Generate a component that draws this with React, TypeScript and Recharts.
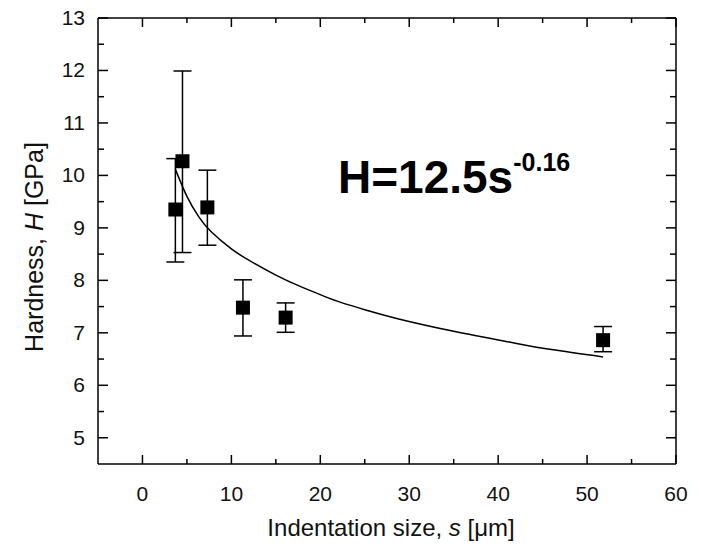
import { ComposedChart, Scatter, Line, XAxis, YAxis, ErrorBar } from "recharts";

// measured points (indentation size in um, hardness in GPa)
const sizes = [3.7, 4.5, 7.3, 11.3, 16.1, 51.8];
const hardness = [9.35, 10.27, 9.39, 7.48, 7.29, 6.86];
const hardnessLow = [8.35, 8.53, 8.67, 6.94, 7.01, 6.64];
const hardnessHigh = [10.32, 11.99, 10.1, 8.01, 7.57, 7.12];

// fitted curve
const fitSizes = [3.7, 5, 6.3, 7.7, 10, 12, 15, 17.8, 20.4, 22.3, 25, 28.7, 35, 41.4, 46, 51.8];
const fitHardness = [10.12, 9.6, 9.22, 8.93, 8.6, 8.38, 8.1, 7.88, 7.7, 7.58, 7.44, 7.27, 7.03, 6.82, 6.68, 6.54];

const xTicks = [0, 5, 10, 15, 20, 25, 30, 35, 40, 45, 50, 55, 60];
const yTicks = [5, 5.5, 6, 6.5, 7, 7.5, 8, 8.5, 9, 9.5, 10, 10.5, 11, 11.5, 12, 12.5, 13];

const points = sizes.map((s, i) => ({
  x: s,
  y: hardness[i],
  err: [hardness[i] - hardnessLow[i], hardnessHigh[i] - hardness[i]],
}));
const fit = fitSizes.map((s, i) => ({ x: s, y: fitHardness[i] }));

const FONT = "'Liberation Sans', Arial, sans-serif";
const axisStroke = { stroke: "#000", strokeWidth: 1.5 };

const isMajorX = (v: number) => v % 10 === 0;
const isMajorY = (v: number) => Number.isInteger(v);

function BottomTick(props: any) {
  const { x, y, payload } = props;
  const major = isMajorX(payload.value);
  return (
    <g>
      <line x1={x} y1={y} x2={x} y2={y - (major ? 9 : 5)} stroke="#000" strokeWidth={1.5} />
      {major && (
        <text x={x} y={y + 37} textAnchor="middle" fontSize={21} fontFamily={FONT} fill="#111">
          {payload.value}
        </text>
      )}
    </g>
  );
}

function TopTick(props: any) {
  const { x, y, payload } = props;
  const major = isMajorX(payload.value);
  return <line x1={x} y1={y} x2={x} y2={y + (major ? 9 : 5)} stroke="#000" strokeWidth={1.5} />;
}

function LeftTick(props: any) {
  const { x, y, payload } = props;
  const major = isMajorY(payload.value);
  return (
    <g>
      <line x1={x} y1={y} x2={x + (major ? 10 : 6)} y2={y} stroke="#000" strokeWidth={1.5} />
      {major && (
        <text x={x - 13} y={y + 7} textAnchor="end" fontSize={21} fontFamily={FONT} fill="#111">
          {payload.value}
        </text>
      )}
    </g>
  );
}

function RightTick(props: any) {
  const { x, y, payload } = props;
  const major = isMajorY(payload.value);
  return <line x1={x} y1={y} x2={x - (major ? 10 : 6)} y2={y} stroke="#000" strokeWidth={1.5} />;
}

const Square = (props: any) => (
  <rect x={props.cx - 7} y={props.cy - 7} width={14} height={14} fill="#000" />
);

export default function App() {
  return (
    <div style={{ position: "absolute", left: 0, top: 0, width: 702, height: 544, background: "#fff" }}>
      <ComposedChart width={702} height={544} margin={{ top: 8, right: 16, bottom: 40, left: 38 }}>
        <XAxis
          xAxisId="b"
          dataKey="x"
          type="number"
          domain={[-5, 60]}
          ticks={xTicks}
          interval={0}
          height={40}
          tickSize={0}
          tickMargin={0}
          tickLine={false}
          axisLine={axisStroke}
          tick={<BottomTick />}
        />
        <XAxis
          xAxisId="t"
          orientation="top"
          dataKey="x"
          type="number"
          domain={[-5, 60]}
          ticks={xTicks}
          interval={0}
          height={10}
          tickSize={0}
          tickMargin={0}
          tickLine={false}
          axisLine={axisStroke}
          tick={<TopTick />}
        />
        <YAxis
          yAxisId="l"
          type="number"
          domain={[4.5, 13]}
          ticks={yTicks}
          interval={0}
          width={60}
          tickSize={0}
          tickMargin={0}
          tickLine={false}
          axisLine={axisStroke}
          tick={<LeftTick />}
        />
        <YAxis
          yAxisId="r"
          orientation="right"
          type="number"
          domain={[4.5, 13]}
          ticks={yTicks}
          interval={0}
          width={10}
          tickSize={0}
          tickMargin={0}
          tickLine={false}
          axisLine={axisStroke}
          tick={<RightTick />}
        />
        <Line
          xAxisId="b"
          yAxisId="l"
          data={fit}
          dataKey="y"
          type="natural"
          stroke="#000"
          strokeWidth={1.5}
          dot={false}
          isAnimationActive={false}
        />
        <Scatter
          xAxisId="t"
          yAxisId="r"
          data={points}
          dataKey="y"
          fill="#000"
          shape={Square}
          isAnimationActive={false}
        >
          <ErrorBar dataKey="err" direction="y" width={9} stroke="#000" strokeWidth={1.5} />
        </Scatter>
      </ComposedChart>
      <svg width={702} height={544} style={{ position: "absolute", left: 0, top: 0, pointerEvents: "none" }}>
        <text
          transform="translate(43,247) rotate(-90)"
          textAnchor="middle"
          fontSize={25}
          fontFamily={FONT}
          fill="#111"
        >
          Hardness, <tspan fontStyle="italic">H</tspan> [GPa]
        </text>
        <text x={391} y={536} textAnchor="middle" fontSize={24} fontFamily={FONT} fill="#111">
          Indentation size, <tspan fontStyle="italic">s</tspan> [μm]
        </text>
        <text x={338} y={193} fontSize={46} fontWeight="bold" fontFamily={FONT} fill="#000">
          H=12.5s
          <tspan fontSize={25} dy={-22}>-0.16</tspan>
        </text>
      </svg>
    </div>
  );
}
